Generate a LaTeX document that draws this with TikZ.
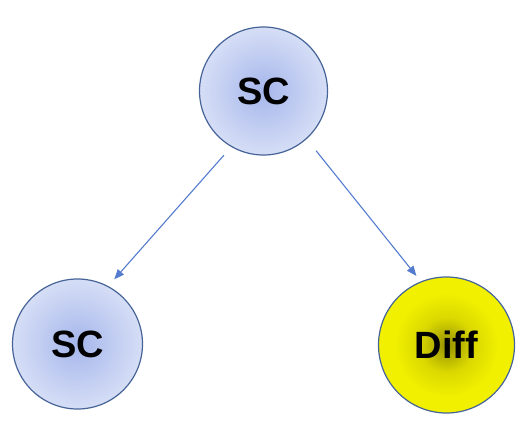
\documentclass[tikz,border=0pt]{standalone}
\usepackage{fontspec}
\setmainfont{Liberation Sans}
\usetikzlibrary{arrows.meta}
\definecolor{scIn}{RGB}{165,182,235}
\definecolor{scOut}{RGB}{214,222,246}
\definecolor{diffIn}{RGB}{150,145,0}
\definecolor{diffMid}{RGB}{218,216,0}
\definecolor{diffOut}{RGB}{240,240,0}
\definecolor{ballEdge}{RGB}{70,100,152}
\definecolor{linkBlue}{RGB}{84,124,206}
\pgfdeclareradialshading{diffShade}{\pgfpoint{0bp}{0bp}}{color(0bp)=(diffIn); color(10bp)=(diffMid); color(19bp)=(diffOut); color(50bp)=(diffOut)}
\tikzset{
    ballSC/.style={
        circle,
        draw=ballEdge,
        line width=1.2pt,
        inner sep=0pt,
        shading=radial,
        inner color=scIn,
        outer color=scOut,
        font=\fontsize{38}{42}\selectfont\bfseries
    },
    ballDiff/.style={
        ballSC,
        shading=diffShade
    },
    linkArrow/.style={
        -{Triangle[length=10pt,width=8pt]},
        draw=linkBlue,
        line width=1.1pt
    }
}
\begin{document}
\begin{tikzpicture}[x=1pt,y=-1pt]
    \useasboundingbox (0,0) rectangle (530,442);
    \node[ballSC,minimum size=128pt] (root) at (263.5,91) {SC};
    \node[ballSC,minimum size=130pt] (child) at (77.5,344) {SC};
    \node[ballDiff,minimum size=136pt] (diff) at (446.5,345) {Diff};

    \draw[linkArrow,shorten <=11pt,shorten >=9pt] (root.240) -- (child.62);
    \draw[linkArrow,shorten <=15pt,shorten >=7pt] (root.312) -- (diff.112);
\end{tikzpicture}
\end{document}
